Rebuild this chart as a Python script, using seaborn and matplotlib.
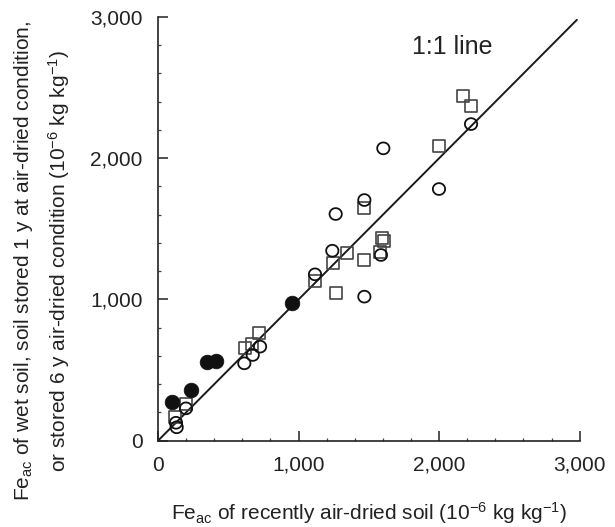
import numpy as np
import pandas as pd
import matplotlib
matplotlib.use("Agg")
import matplotlib.pyplot as plt
import seaborn as sns
from matplotlib.ticker import MultipleLocator, FuncFormatter

# ---- data (10^-6 kg kg^-1) ----
wet_x = [97, 235, 351, 410, 956]
wet_y = [276, 359, 559, 566, 973]

stored1y_x = [128, 133, 199, 614, 674, 726, 1117, 1240, 1264, 1468, 1468, 1586, 1603, 1999, 2227]
stored1y_y = [127, 95, 229, 548, 607, 666, 1178, 1345, 1605, 1704, 1020, 1315, 2070, 1782, 2242]

stored6y_x = [121, 197, 619, 666, 718, 1117, 1247, 1345, 1264, 1468, 1468, 1579, 1591, 1605, 2001, 2172, 2227]
stored6y_y = [170, 260, 654, 683, 765, 1131, 1256, 1327, 1048, 1650, 1279, 1338, 1433, 1414, 2089, 2443, 2370]

line_ends = [0, 2980]
axis_ticks = [0, 1000, 2000, 3000]

sns.set_theme(style="ticks")
plt.rcParams['font.family'] = ['Liberation Sans', 'DejaVu Sans']
plt.rcParams['mathtext.fontset'] = 'custom'
plt.rcParams['mathtext.rm'] = 'Liberation Sans'
plt.rcParams['mathtext.it'] = 'Liberation Sans'
plt.rcParams['mathtext.default'] = 'regular'

fig = plt.figure(figsize=(6.15, 5.27), dpi=100)
ax = fig.add_axes([158/615, 1-440.7/527, (579.7-158)/615, (440.7-17)/527])

# open-circle marker, very slightly wider than tall
t = np.linspace(0, 2*np.pi, 80)
ell = list(zip(np.cos(t), 0.96*np.sin(t)))

df_wet = pd.DataFrame({"x": wet_x, "y": wet_y})
df_1y = pd.DataFrame({"x": stored1y_x, "y": stored1y_y})
df_6y = pd.DataFrame({"x": stored6y_x, "y": stored6y_y})

ax.plot(line_ends, line_ends, color='#1a1a1a', lw=1.4, zorder=1)

sns.scatterplot(data=df_6y, x="x", y="y", ax=ax, marker='s', s=72,
                facecolors='none', edgecolor='#444444', linewidth=1.2, zorder=3)
sns.scatterplot(data=df_1y, x="x", y="y", ax=ax, marker=ell, s=78,
                facecolors='none', edgecolor='#111111', linewidth=1.3, zorder=3)
sns.scatterplot(data=df_wet, x="x", y="y", ax=ax, marker='o', s=112,
                color='#111111', edgecolor='#111111', linewidth=0.5, zorder=4)

ax.set_xlim(0, 3000)
ax.set_ylim(0, 3000)
ax.set_xticks(axis_ticks)
ax.set_yticks(axis_ticks)
ax.xaxis.set_minor_locator(MultipleLocator(200))
ax.yaxis.set_minor_locator(MultipleLocator(200))
fmt = FuncFormatter(lambda v, p: f"{int(v):,}")
ax.xaxis.set_major_formatter(fmt)
ax.yaxis.set_major_formatter(fmt)
ax.tick_params(which='major', direction='in', length=7, width=1.1, labelsize=15,
               colors='#222222', pad=11)
ax.tick_params(which='minor', direction='in', length=2.5, width=0.9, colors='#444444')

for s in ['top', 'right']:
    ax.spines[s].set_visible(False)
for s in ['left', 'bottom']:
    ax.spines[s].set_linewidth(1.2)
    ax.spines[s].set_color('#222222')

ax.set_xlabel(r'Fe$_{ac}$ of recently air-dried soil (10$^{-6}$ kg kg$^{-1}$)',
              fontsize=15, color='#222222', labelpad=18)
ax.set_ylabel(r'Fe$_{ac}$ of wet soil, soil stored 1 y at air-dried condition,' + '\n' +
              r'or stored 6 y air-dried condition (10$^{-6}$ kg kg$^{-1}$)',
              fontsize=15, color='#222222', linespacing=1.55)
ax.yaxis.set_label_coords(-0.205, 0.425)

ax.text(1807, 2788, '1:1 line', fontsize=18, color='#222222', va='center', ha='left')

fig.savefig("out.png", dpi=100)
